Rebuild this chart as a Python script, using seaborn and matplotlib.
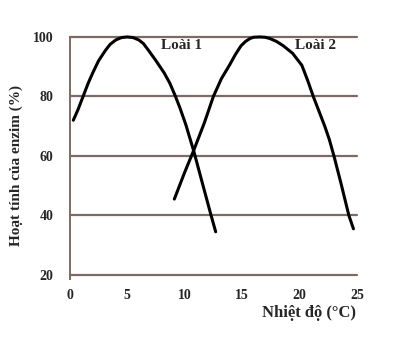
import seaborn as sns
import matplotlib.pyplot as plt
import pandas as pd

# values
loai1_temp = [0.3, 0.7, 1.15, 1.6, 2.0, 2.5, 3.1, 3.5, 4.0, 4.5, 5.0, 5.5, 6.0, 6.4, 6.85,
              7.5, 8.2, 8.7, 9.2, 9.6, 10.1, 10.8, 11.6, 12.3, 12.7]
loai1_act = [72, 75.5, 80, 84.5, 88, 92, 95.5, 97.5, 99, 99.8, 100, 99.8, 99, 97.8, 95.5,
             92, 88, 84.5, 80, 76, 70.5, 61.5, 50, 40, 34.5]
loai2_temp = [9.1, 10.0, 10.8, 11.7, 12.5, 13.2, 13.9, 14.4, 14.9, 15.3, 15.7, 16.0, 16.5,
              17.0, 17.4, 18.0, 18.6, 19.4, 20.2, 20.7, 21.2, 21.7, 22.2, 22.6, 23.0, 23.6, 24.3, 24.7]
loai2_act = [45.5, 54.5, 62, 71, 80, 86, 90.5, 94, 97, 98.5, 99.5, 99.9, 100,
             99.9, 99.5, 98.5, 97, 94.5, 90.5, 85.5, 80, 75, 70, 65.5, 60, 51, 40, 35.5]
x_ticks = [0, 5, 10, 15, 20, 25]
y_ticks = [20, 40, 60, 80, 100]

df = pd.concat([
    pd.DataFrame({'temp': loai1_temp, 'act': loai1_act, 'loai': 'Loài 1'}),
    pd.DataFrame({'temp': loai2_temp, 'act': loai2_act, 'loai': 'Loài 2'}),
])

sns.set_style('white')
plt.rcParams['font.family'] = ['Liberation Serif', 'DejaVu Serif']
plt.rcParams['font.weight'] = 'bold'

grid_col = '#7d6a64'
fig = plt.figure(figsize=(3.97, 3.52), dpi=100)
ax = fig.add_axes([0.176, 0.219, 0.723, 0.676])

for y in y_ticks:
    ax.axhline(y, color=grid_col, lw=1.6, zorder=1, clip_on=False)

sns.lineplot(data=df, x='temp', y='act', hue='loai', palette=['black', 'black'],
             sort=False, estimator=None, lw=2.2, legend=False, ax=ax, zorder=3)
for line in ax.lines:
    line.set_clip_on(False)
    line.set_solid_joinstyle('round')

ax.set_xlim(0, 25)
ax.set_ylim(20, 100)
ax.set_xticks(x_ticks)
ax.set_yticks(y_ticks)
ax.tick_params(axis='y', length=5, width=1.6, color=grid_col, labelsize=10, pad=7)
ax.tick_params(axis='x', direction='in', length=3, width=1, color=grid_col, labelsize=10, pad=10)
for lab in ax.get_xticklabels() + ax.get_yticklabels():
    lab.set_fontweight('bold')

for side in ['top', 'right', 'bottom']:
    ax.spines[side].set_visible(False)
ax.spines['left'].set_color(grid_col)
ax.spines['left'].set_linewidth(1.4)
ax.spines['left'].set_bounds(18.5, 100)

ax.set_xlabel('')
ax.set_ylabel('Hoạt tính của enzim (%)', fontsize=11, fontweight='bold')
ax.yaxis.set_label_coords(-0.165, 0.46)
fig.text(0.66, 0.11, 'Nhiệt độ (°C)', fontsize=12, fontweight='bold', ha='left', va='center')

ax.text(7.9, 97, 'Loài 1', fontsize=11, fontweight='bold', va='center')
ax.text(19.6, 97, 'Loài 2', fontsize=11, fontweight='bold', va='center')

fig.savefig('out.png', dpi=100)
